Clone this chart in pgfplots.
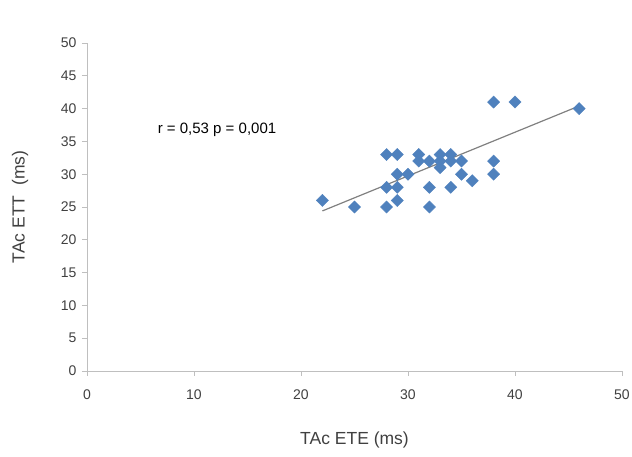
\documentclass[border=0pt]{standalone}
\usepackage{pgfplots}
\pgfplotsset{compat=1.18}
\usepackage{fontspec}
\setmainfont{Liberation Sans}
\definecolor{ptblue}{HTML}{4F81BD}
\definecolor{axgray}{HTML}{BFBFBF}
\definecolor{txtgray}{HTML}{404040}
\begin{document}
\begin{tikzpicture}[x=1pt,y=1pt]
\useasboundingbox (-87,-86) rectangle (545,371);
\begin{axis}[
  at={(0,0)}, anchor=south west,
  scale only axis, width=535pt, height=328pt,
  xmin=0, xmax=50, ymin=0, ymax=50,
  xtick={0,10,...,50}, ytick={0,5,...,50},
  axis lines=left,
  axis line style={axgray, line width=0.8pt, -},
  tick style={axgray, line width=0.8pt},
  major tick length=5pt,
  tick align=outside,
  tick pos=left,
  ticklabel style={font=\fontsize{14}{16}\selectfont, text=txtgray},
  /pgf/number format/assume math mode=true,
  xticklabel style={yshift=-10pt},
  yticklabel style={xshift=-2pt},
  xlabel={TAc ETE (ms)},
  ylabel={TAc ETT\ \ (ms)},
  label style={font=\fontsize{17.5}{20}\selectfont, text=txtgray},
  xlabel style={at={(axis description cs:0.5,-0.21)}, anchor=center},
  ylabel style={at={(axis description cs:-0.125,0.5)}, anchor=center},
  clip=false,
]
\addplot[only marks, mark=square*, mark size=4.3pt, mark options={rotate=45, fill=ptblue, draw=ptblue}]
  coordinates {
  (38,41) (40,41) (46,40)
  (28,33) (29,33) (31,33) (33,33) (34,33)
  (31,32) (32,32) (33,32) (34,32) (35,32) (38,32)
  (33,31)
  (29,30) (30,30) (35,30) (38,30)
  (36,29)
  (28,28) (29,28) (32,28) (34,28)
  (22,26) (29,26)
  (25,25) (28,25) (32,25)
  };
\addplot[gray, line width=1.2pt] coordinates {(22,24.4) (46,40.4)};
\node[font=\fontsize{15}{17}\selectfont, text=black, anchor=center] at (axis cs:12.15,36.7) {r = 0,53 p = 0,001};
\end{axis}
\end{tikzpicture}
\end{document}
